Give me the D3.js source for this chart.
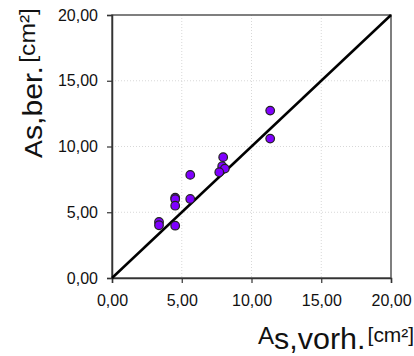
<!DOCTYPE html>
<html><head><meta charset="utf-8">
<script src="https://cdn.jsdelivr.net/npm/d3@7"></script>
<style>body{margin:0;background:#fff}svg{display:block;font-family:Arial,"Liberation Sans",sans-serif}</style>
</head><body><svg id="c" width="414" height="356"></svg>
<script>
const xVals = [11.34, 11.34, 7.97, 7.90, 8.09, 7.69, 5.61, 5.61, 4.53, 4.53, 4.53, 4.53, 3.37, 3.37];
const yVals = [12.73, 10.60, 9.19, 8.50, 8.32, 8.04, 7.84, 6.01, 6.11, 5.99, 5.50, 3.98, 4.26, 4.01];
const tickVals = [0, 5, 10, 15, 20];
const tickLabels = ["0,00", "5,00", "10,00", "15,00", "20,00"];
const refLine = [[0, 0], [20, 20]];

const svg = d3.select("#c");
const L = 112, R = 391, T = 15, B = 278;
const x = d3.scaleLinear().domain([0, 20]).range([L, R]);
const y = d3.scaleLinear().domain([0, 20]).range([B, T]);

// grid
svg.append("g").selectAll("line").data(tickVals.slice(1, 4)).join("line")
  .attr("x1", d => x(d)).attr("x2", d => x(d)).attr("y1", T).attr("y2", B)
  .attr("stroke", "#d8d8d8").attr("stroke-width", 1).attr("stroke-dasharray", "1,2");
svg.append("g").selectAll("line").data(tickVals.slice(1, 4)).join("line")
  .attr("y1", d => y(d)).attr("y2", d => y(d)).attr("x1", L).attr("x2", R)
  .attr("stroke", "#d8d8d8").attr("stroke-width", 1).attr("stroke-dasharray", "1,2");

// frame
svg.append("rect").attr("x", L).attr("y", T).attr("width", R - L).attr("height", B - T)
  .attr("fill", "none").attr("stroke", "#555").attr("stroke-width", 1.5);

const fmt = d => tickLabels[tickVals.indexOf(d)];
const xa = svg.append("g").attr("transform", `translate(0,${B})`)
  .call(d3.axisBottom(x).tickValues(tickVals).tickFormat(fmt).tickSize(5).tickPadding(12));
const ya = svg.append("g").attr("transform", `translate(${L},0)`)
  .call(d3.axisLeft(y).tickValues(tickVals).tickFormat(fmt).tickSize(5).tickPadding(9));
[xa, ya].forEach(a => {
  a.select(".domain").attr("stroke", "#333").attr("stroke-width", 1.5);
  a.selectAll(".tick line").attr("stroke", "#333").attr("stroke-width", 1.2);
  a.selectAll("text").attr("font-size", 16).attr("fill", "#111")
    .attr("font-family", "Arial, 'Liberation Sans', sans-serif");
});

// reference line
svg.append("path").datum(refLine)
  .attr("d", d3.line().x(d => x(d[0])).y(d => y(d[1])))
  .attr("stroke", "#000").attr("stroke-width", 2.5).attr("fill", "none");

// points
svg.append("g").selectAll("circle").data(xVals.map((v, i) => [v, yVals[i]])).join("circle")
  .attr("cx", d => x(d[0])).attr("cy", d => y(d[1])).attr("r", 4.3)
  .attr("fill", "#8000ff").attr("stroke", "#222").attr("stroke-width", 1.2);

// x label
const xg = svg.append("g").attr("transform", "translate(258,344) scale(1.05,1)");
const xl = xg.append("text").attr("x", 0).attr("y", 0).attr("fill", "#111");
xl.append("tspan").attr("font-size", 23).text("A");
xl.append("tspan").attr("font-size", 29).attr("dy", 5).text("s,vorh.");
xl.append("tspan").attr("font-size", 20).attr("dx", 2).attr("dy", -7).text("[cm²]");

// y label
const yg = svg.append("g").attr("transform", "translate(41.5,158) rotate(-90) scale(1.12,1)");
const yl = yg.append("text").attr("x", 0).attr("y", 0).attr("fill", "#111");
yl.append("tspan").attr("font-size", 24).text("A");
yl.append("tspan").attr("font-size", 27).text("s,ber.");
yl.append("tspan").attr("font-size", 22).attr("dx", 3).attr("dy", -7).text("[cm²]");
</script></body></html>
